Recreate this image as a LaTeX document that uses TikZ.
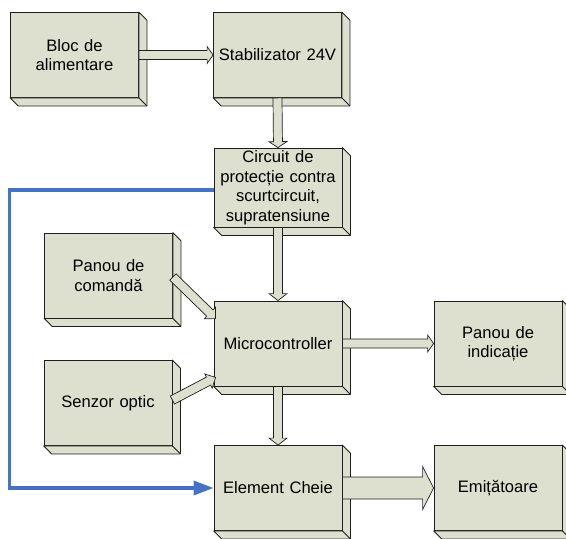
\documentclass[tikz,border=0pt]{standalone}
\usepackage{fontspec}
\setmainfont{Liberation Sans}
\usetikzlibrary{calc,arrows.meta}
\definecolor{boxc}{RGB}{221,224,206}
\definecolor{edgec}{RGB}{30,30,30}
\definecolor{bluec}{RGB}{70,114,196}
\tikzset{
 blk/.style={draw=edgec, line width=0.8pt, fill=boxc, minimum width=128pt, minimum height=85pt, inner sep=0pt, text width=124pt, align=center, font=\fontsize{16.6}{19.5}\selectfont},
 face/.style={draw=edgec, line width=0.8pt, fill=boxc, line join=round},
 barr/.style={draw=edgec, line width=0.7pt, fill=boxc, line join=miter},
 blueln/.style={draw=bluec, line width=3.5pt, -{Triangle[length=20pt,width=14pt]}}
}
\newcommand\extrude[1]{%
 \filldraw[face] (#1.north east) -- ++(8,8) -- ($(#1.south east)+(8,8)$) -- ($(#1.south west)+(8,8)$) -- (#1.south west) -- (#1.south east) -- cycle;
 \draw[face, fill=none] (#1.south east) -- ++(8,8);
}
\newcommand\barrow[5]{%
 \coordinate (ba-h) at ($(#2)!#5!(#1)$);
 \filldraw[barr] ($(#1)!#3!90:(#2)$) -- ($(ba-h)!#3!-90:(#1)$) -- ($(ba-h)!#4!-90:(#1)$) -- (#2) -- ($(ba-h)!#4!90:(#1)$) -- ($(ba-h)!#3!90:(#1)$) -- ($(#1)!#3!-90:(#2)$) -- cycle;
}
\begin{document}
\begin{tikzpicture}[x=1pt,y=-1pt]
\useasboundingbox (0,0) rectangle (566,539);
\node[blk] (bloc) at (74.5,55) {Bloc de\\alimentare};
\node[blk] (stab) at (277.5,55) {Stabilizator 24V};
\node[blk, minimum height=79pt] (circ) at (278,187.5) {Circuit de\\protecție contra\\scurtcircuit,\\supratensiune};
\node[blk] (pcom) at (108.5,275.5) {Panou de\\comandă};
\node[blk] (micro) at (278,343.5) {Microcontroller};
\node[blk] (pind) at (498,343.5) {Panou de\\indicație};
\node[blk] (senz) at (108,403) {Senzor optic};
\node[blk] (elem) at (278,488) {Element Cheie};
\node[blk] (emit) at (498,488) {Emițătoare};
\foreach \n in {bloc,stab,circ,pcom,micro,pind,senz,elem,emit} {\extrude{\n}}
\barrow{bloc.east}{stab.west}{4.5pt}{8.5pt}{6pt}
\barrow{stab.south}{circ.north}{4.5pt}{9pt}{6pt}
\barrow{circ.south}{micro.north}{4.5pt}{9pt}{7pt}
\barrow{micro.south}{elem.north}{4.5pt}{9pt}{7pt}
\barrow{micro.east}{pind.west}{4.5pt}{8.5pt}{6pt}
\barrow{elem.east}{emit.west}{11pt}{21.5pt}{11pt}
\coordinate (pca) at ($(pcom.east)+(0,1.5)$);
\coordinate (pcb) at ($(micro.north west)+(2,18)$);
\barrow{pca}{pcb}{4.5pt}{8pt}{8pt}
\coordinate (soa) at ($(senz.east)+(0,-3)$);
\coordinate (sob) at ($(micro.south west)+(2,-9)$);
\barrow{soa}{sob}{4.5pt}{8pt}{8pt}
\draw[blueln] ($(circ.west)+(0,2.5)$) -- ++(-204,0) |- (elem.west);
\end{tikzpicture}
\end{document}
